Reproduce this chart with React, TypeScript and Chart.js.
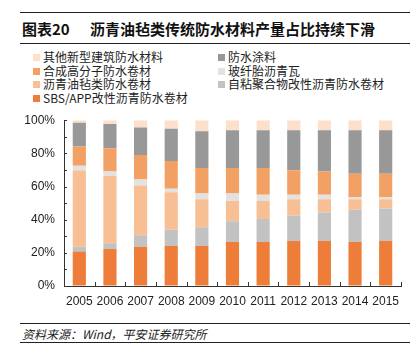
import React, { useEffect, useRef } from "react";
import { Chart, registerables } from "chart.js";

Chart.register(...registerables);

const years = ["2005", "2006", "2007", "2008", "2009", "2010", "2011", "2012", "2013", "2014", "2015"];
const sbsApp = [20.8, 22.3, 23.7, 24.2, 24.2, 26.5, 26.5, 27.1, 27.1, 26.5, 27.1];
const selfAdhesive = [3.0, 3.5, 6.9, 9.8, 11.2, 12.5, 13.9, 15.4, 17.3, 19.5, 19.6];
const asphaltFelt = [45.8, 40.5, 30.0, 22.5, 16.9, 12.3, 10.9, 9.8, 7.9, 6.3, 5.6];
const glassShingle = [2.9, 2.7, 3.6, 2.2, 3.5, 4.5, 3.7, 2.7, 2.7, 1.4, 1.4];
const polymerSheet = [11.7, 14.1, 14.8, 16.7, 15.4, 15.4, 16.2, 14.8, 14.0, 14.0, 14.0];
const coating = [14.3, 14.6, 16.6, 19.4, 22.1, 22.8, 22.8, 24.2, 25.0, 26.3, 26.3];
const others = [1.5, 2.3, 4.4, 5.2, 6.7, 6.0, 6.0, 6.0, 6.0, 6.0, 6.0];

const names = {
  sbs: "SBS/APP改性沥青防水卷材",
  sa: "自粘聚合物改性沥青防水卷材",
  felt: "沥青油毡类防水卷材",
  glass: "玻纤胎沥青瓦",
  poly: "合成高分子防水卷材",
  coat: "防水涂料",
  other: "其他新型建筑防水材料",
};

const colors = {
  sbs: "#EE7D3A",
  sa: "#C2C2C2",
  felt: "#F8BF95",
  glass: "#E2E2E2",
  poly: "#F3A065",
  coat: "#989898",
  other: "#FCE0CC",
};

const FONT = "'Liberation Sans', 'Noto Sans CJK SC', sans-serif";
const CJK = "'Noto Sans CJK SC', 'Liberation Sans', sans-serif";

const innerTicks = {
  id: "innerTicks",
  afterDraw(chart: any) {
    const ctx = chart.ctx;
    const xs = chart.scales.x;
    const ys = chart.scales.y;
    const area = chart.chartArea;
    ctx.save();
    ctx.strokeStyle = "#333";
    ctx.lineWidth = 1;
    const n = years.length;
    const w = (area.right - area.left) / n;
    for (let i = 0; i <= n; i++) {
      const x = Math.round(area.left + i * w) + 0.5;
      ctx.beginPath();
      ctx.moveTo(x, area.bottom);
      ctx.lineTo(x, area.bottom - 4);
      ctx.stroke();
    }
    for (let v = 0; v <= 100; v += 10) {
      const y = Math.round(ys.getPixelForValue(v)) + 0.5;
      ctx.beginPath();
      ctx.moveTo(area.left, y);
      ctx.lineTo(area.left + 3, y);
      ctx.stroke();
    }
    ctx.restore();
  },
};

function ChartCanvas() {
  const ref = useRef<HTMLCanvasElement>(null);
  useEffect(() => {
    if (!ref.current) return;
    const mk = (key: keyof typeof names, data: number[]) => ({
      label: names[key],
      data,
      backgroundColor: colors[key],
      borderWidth: 0,
      barPercentage: 0.43,
      categoryPercentage: 1,
    });
    const chart = new Chart(ref.current, {
      type: "bar",
      data: {
        labels: years,
        datasets: [
          mk("sbs", sbsApp),
          mk("sa", selfAdhesive),
          mk("felt", asphaltFelt),
          mk("glass", glassShingle),
          mk("poly", polymerSheet),
          mk("coat", coating),
          mk("other", others),
        ],
      },
      options: {
        responsive: false,
        animation: false,
        layout: { padding: { top: 8, right: 15, left: 0, bottom: 0 } },
        plugins: { legend: { display: false }, tooltip: { enabled: false } },
        scales: {
          x: {
            stacked: true,
            grid: { display: true, drawOnChartArea: false, drawTicks: false },
            border: { display: true, color: "#333", width: 1 },
            ticks: { color: "#222", font: { family: FONT, size: 12 }, padding: 8, maxRotation: 0 },
            afterFit: (s: any) => {
              s.height = 28;
            },
          },
          y: {
            stacked: true,
            min: 0,
            max: 100,
            grid: { display: true, drawOnChartArea: false, drawTicks: false },
            border: { display: true, color: "#333", width: 1 },
            ticks: {
              stepSize: 10,
              color: "#222",
              font: { family: FONT, size: 12 },
              padding: 9,
              callback: (v: any) => v + "%",
            },
            afterFit: (s: any) => {
              s.width = 64;
            },
          },
        },
      },
      plugins: [innerTicks],
    });
    return () => chart.destroy();
  }, []);
  return <canvas ref={ref} width={416} height={210} style={{ position: "absolute", left: 0, top: 104 }} />;
}

const legendLeft = [
  { key: "other" as const, y: 57 },
  { key: "poly" as const, y: 71 },
  { key: "felt" as const, y: 84 },
  { key: "sbs" as const, y: 98 },
];
const legendRight = [
  { key: "coat" as const, y: 57 },
  { key: "glass" as const, y: 71 },
  { key: "sa" as const, y: 84 },
];

export default function App() {
  const item = (key: keyof typeof names, x: number, y: number) => (
    <div key={key} style={{ position: "absolute", left: x, top: y - 8, height: 16, display: "flex", alignItems: "center", whiteSpace: "nowrap" }}>
      <span style={{ display: "inline-block", width: 7, height: 7, background: colors[key], marginRight: 3 }} />
      <span style={{ fontFamily: CJK, fontSize: 12, color: "#222", lineHeight: "16px" }}>{names[key]}</span>
    </div>
  );
  return (
    <div style={{ position: "fixed", left: 0, top: 0, width: 416, height: 358, background: "#fff", overflow: "hidden" }}>
      <div style={{ position: "absolute", left: 20, top: 12, width: 390, height: 0, borderTop: "1.5px solid #222" }} />
      <div style={{ position: "absolute", left: 22, top: 16, height: 24, display: "flex", alignItems: "center", fontFamily: CJK, fontWeight: "bold", fontSize: 15, color: "#111", whiteSpace: "nowrap" }}>
        <span style={{ width: 68, display: "inline-block" }}>图表20</span>
        <span>沥青油毡类传统防水材料产量占比持续下滑</span>
      </div>
      <div style={{ position: "absolute", left: 20, top: 43, width: 390, height: 0, borderTop: "1px solid #222" }} />
      {legendLeft.map((l) => item(l.key, 33, l.y))}
      {legendRight.map((l) => item(l.key, 218, l.y))}
      <ChartCanvas />
      <div style={{ position: "absolute", left: 20, top: 323, width: 390, height: 0, borderTop: "1px solid #222" }} />
      <div style={{ position: "absolute", left: 22, top: 325, height: 16, display: "flex", alignItems: "center", fontFamily: CJK, fontStyle: "italic", fontSize: 12, color: "#222", whiteSpace: "nowrap" }}>
        资料来源：Wind，平安证券研究所
      </div>
      <div style={{ position: "absolute", left: 20, top: 342, width: 390, height: 0, borderTop: "1px solid #222" }} />
    </div>
  );
}
